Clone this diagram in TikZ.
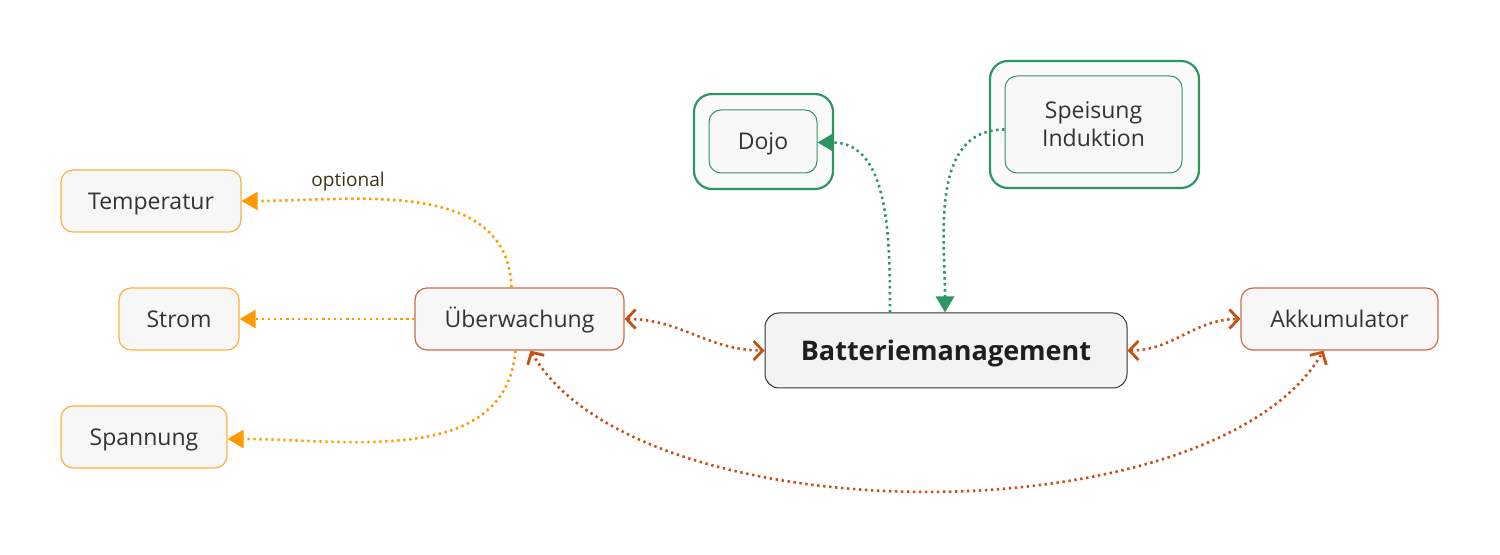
\documentclass[tikz,border=0pt]{standalone}
\usepackage{fontspec}
\setmainfont{Open Sans}
\usetikzlibrary{arrows.meta,positioning}
\definecolor{boxfill}{RGB}{247,247,247}
\definecolor{mainfill}{RGB}{243,243,243}
\definecolor{txtgray}{RGB}{51,51,51}
\definecolor{leaforange}{RGB}{255,176,60}
\definecolor{obsorange}{RGB}{255,153,0}
\definecolor{subbrown}{RGB}{196,110,70}
\definecolor{relbrown}{RGB}{196,80,20}
\definecolor{grn}{RGB}{46,150,100}
\definecolor{optcolor}{RGB}{60,50,20}

\begin{document}
\begin{tikzpicture}[x=0.5pt,y=-0.5pt,>={Triangle[length=8pt,width=9pt]},font=\fontsize{11.5}{14}\selectfont,text=txtgray]
 \tikzstyle{box}=[draw,rounded corners=6pt,fill=boxfill,minimum height=31pt,inner sep=0pt]
 \tikzstyle{one line}=[text height=8.4pt,text depth=0.2pt]
 \tikzstyle{leaf}=[box,one line,draw=leaforange,line width=0.6pt]
 \tikzstyle{sub}=[box,one line,draw=subbrown,line width=0.6pt]
 \tikzstyle{inner}=[box,draw=grn,line width=0.5pt]
 \tikzstyle{group}=[draw=grn,line width=1.1pt,rounded corners=9pt,fill=white!98!black]
 \tikzstyle{obs}=[draw=obsorange,line width=1.3pt,dash pattern=on 1.2pt off 1.8pt,->]
 \tikzstyle{feed}=[draw=grn,line width=1.3pt,dash pattern=on 1.2pt off 1.8pt,->]
 \tikzstyle{rel}=[draw=relbrown,line width=1.3pt,dash pattern=on 1.2pt off 1.8pt,{Straight Barb[length=4.5pt,width=9.5pt,line width=1.4pt]}-{Straight Barb[length=4.5pt,width=9.5pt,line width=1.4pt]}]
 \useasboundingbox (0,0) rectangle (1500,555);

   % main topic
   \node[box,draw=txtgray,line width=0.5pt,fill=mainfill,rounded corners=7pt,minimum width=181pt,minimum height=37.5pt,text height=9.8pt,text depth=0.2pt,font=\fontsize{13.5}{16}\selectfont\bfseries,text=black!88] (bm) at (946,350.5) {Batteriemanagement};

   % sub topics
   \node[sub,minimum width=104.5pt] (uw) at (519.5,319) {Überwachung};
   \node[sub,minimum width=98.5pt] (akk) at (1339.5,319) {Akkumulator};

   % leaves
   \node[leaf,minimum width=90pt] (temp) at (151,201) {Temperatur};
   \node[leaf,minimum width=60pt] (strom) at (179,319) {Strom};
   \node[leaf,minimum width=83pt] (span) at (144,437) {Spannung};

   % green groups
   \node[group,minimum width=69.5pt,minimum height=47.5pt] (dojo-g) at (763.5,141.5) {};
   \node[inner,one line,minimum width=54pt,minimum height=31.5pt] (dojo) at (763,141.5) {Dojo};
   \node[group,minimum width=104.5pt,minimum height=63.5pt] (spi-g) at (1094.5,124.5) {};
   \node[inner,minimum width=88.5pt,minimum height=48.5pt,align=center] (spi) at (1093.5,124.5) {Speisung\\Induktion};

   \path[obs] ([xshift=-4pt]uw.north) to[out=92,in=0] node[pos=0.7,above=0pt,font=\fontsize{9.5}{11}\selectfont,text=optcolor] {optional} (temp.east);
   \path[obs] (uw.west) to[out=180,in=0] (strom.east);
   \path[obs] ([xshift=-2pt]uw.south) to[out=-95,in=0] ([yshift=-1pt]span.east);

   \path[rel] (uw.east) to[out=0,in=180] (bm.west);
   \path[rel] (bm.east) to[out=0,in=180] (akk.west);
   \path[rel] ([xshift=5.5pt]uw.south) to[out=-60,in=-120,looseness=0.7] ([xshift=-8pt]akk.south);

   \path[feed] ([xshift=-28pt]bm.north) to[out=90,in=0] ([yshift=-0.5pt]dojo.east);
   \path[feed] ([yshift=-2.5pt]spi.west) to[out=180,in=90] ([xshift=-0.5pt]bm.north);
\end{tikzpicture}
\end{document}
